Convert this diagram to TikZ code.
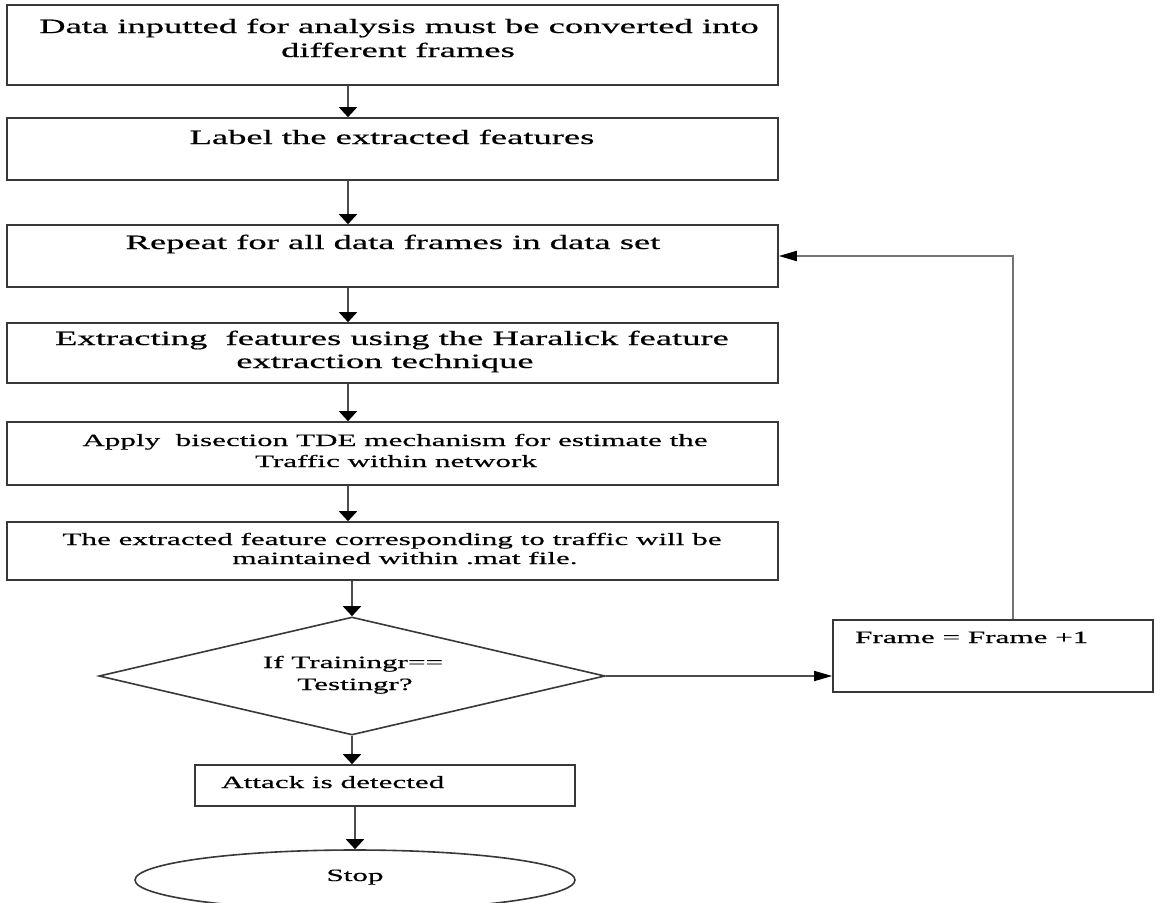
\documentclass[tikz,border=0pt]{standalone}
\usepackage{fontspec}
\setmainfont{Liberation Serif}[FakeStretch=1.8,FakeBold=0.5]
\usetikzlibrary{arrows.meta,shapes.geometric}
\tikzset{
  box/.style={draw=black!78, line width=1.6pt, rectangle, inner sep=0pt},
  varr/.style={draw=black!70, line width=1.8pt, -{Triangle[length=10pt,width=18pt,color=black]}},
  harr/.style={draw=black!70, line width=1.6pt, -{Triangle[length=18pt,width=10pt,color=black]}},
  farr/.style={draw=black!55, line width=1.8pt, -{Triangle[length=18pt,width=10pt,color=black]}},
  big/.style={font=\fontsize{20.3}{24}\selectfont, inner sep=0pt, anchor=base},
  small/.style={font=\fontsize{17.3}{21}\selectfont, inner sep=0pt, anchor=base},
}
\begin{document}
\begin{tikzpicture}[x=1pt,y=-1pt]
\useasboundingbox (0,0) rectangle (1156,902);
% boxes
\node[box, minimum width=771pt, minimum height=80pt] (b1) at (392.5,45) {};
\node[box, minimum width=771pt, minimum height=62pt] (b2) at (392.5,149) {};
\node[box, minimum width=771pt, minimum height=62pt] (b3) at (392.5,256) {};
\node[box, minimum width=771pt, minimum height=60pt] (b4) at (392.5,353) {};
\node[box, minimum width=771pt, minimum height=63pt] (b5) at (392.5,453.5) {};
\node[box, minimum width=771pt, minimum height=58pt] (b6) at (392.5,551) {};
\node[draw=black!78, line width=1.6pt, diamond, minimum width=506pt, minimum height=118pt, inner sep=0pt] (d) at (352,676) {};
\node[box, minimum width=320pt, minimum height=72pt] (fr) at (993,656) {};
\node[box, minimum width=380pt, minimum height=41pt] (at) at (385,785.5) {};
\node[draw=black!78, line width=1.6pt, ellipse, minimum width=440pt, minimum height=60pt, inner sep=0pt] (st) at (355,880) {};
% texts
\node[big] (t1a) at (399,33) {Data inputted for analysis must be converted into};
\node[big] (t1b) at (398,57) {different frames};
\node[big] (t2) at (392,144) {Label the extracted features};
\node[big] (t3) at (393,249) {Repeat for all data frames in data set};
\node[big] (t4a) at (392,345) {Extracting\ \ features using the Haralick feature};
\node[big] (t4b) at (385,368) {extraction technique};
\node[small] (t5a) at (395,446) {Apply\ \ bisection TDE mechanism for estimate the};
\node[small] (t5b) at (396,467) {Traffic within network};
\node[small] (t6a) at (392,545) {The extracted feature corresponding to traffic will be};
\node[small] (t6b) at (405,564) {maintained within .mat file.};
\node[small] (t7a) at (353,668) {If Trainingr==};
\node[small] (t7b) at (355,690) {Testingr?};
\node[small, anchor=base west] (t8) at (855,643) {Frame = Frame +1};
\node[small, anchor=base west] (t9) at (221,788) {Attack is detected};
\node[small] (t10) at (355,881) {Stop};
% connectors
\coordinate (ax) at (348,0);
\coordinate (fx) at (1013,0);
\draw[varr] (b1.south -| ax) -- (b2.north -| ax);
\draw[varr] (b2.south -| ax) -- (b3.north -| ax);
\draw[varr] (b3.south -| ax) -- (b4.north -| ax);
\draw[varr] (b4.south -| ax) -- (b5.north -| ax);
\draw[varr] (b5.south -| ax) -- (b6.north -| ax);
\draw[varr] (b6.south -| d.north) -- (d.north);
\draw[varr] (d.south) -- (at.north -| d.south);
\draw[varr] (at.south -| st.north) -- (st.north);
\draw[harr] (d.east) -- (fr.west |- d.east);
\draw[farr] (fr.north -| fx) |- (b3.east);
\end{tikzpicture}
\end{document}
